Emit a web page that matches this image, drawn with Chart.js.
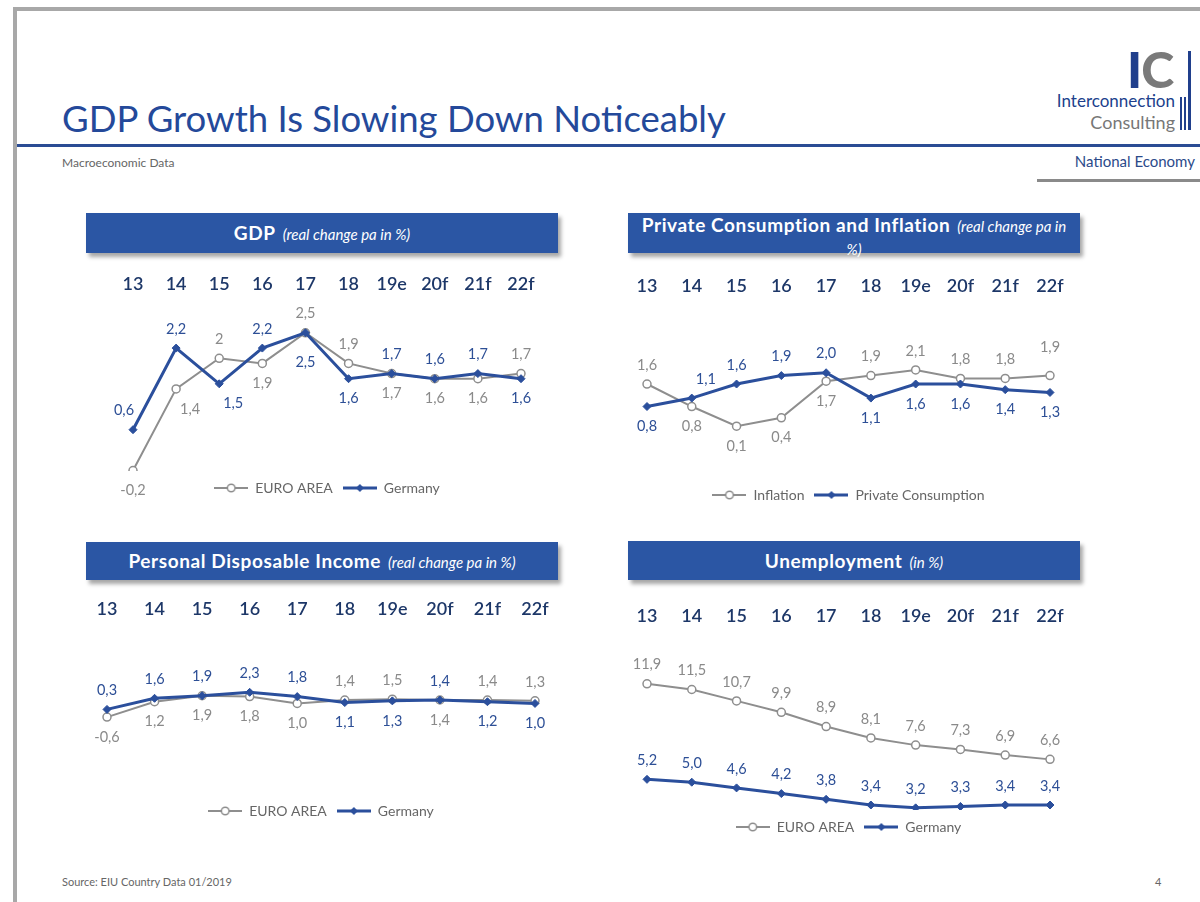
<!DOCTYPE html>
<html>
<head>
<meta charset="utf-8">
<script src="https://cdn.jsdelivr.net/npm/chart.js@4.4.0/dist/chart.umd.min.js"></script>
<style>
body { margin: 0; width: 1200px; height: 902px; background: #fff; position: relative; overflow: hidden; font-family: Lato, sans-serif; }
.abs { position: absolute; }
.frame-top { left: 13px; top: 7px; width: 1187px; height: 4px; background: #a8a8a8; }
.frame-left { left: 13px; top: 7px; width: 4px; height: 895px; background: #a8a8a8; }
#title { left: 62px; top: 95px; font-size: 36.5px; color: #24499a; white-space: nowrap; line-height: 46px; }
.rule { left: 17px; top: 144px; width: 1183px; height: 3px; background: #2a4c94; }
#sub { left: 62px; top: 155px; font-size: 12px; color: #666; }
#natEco { right: 5px; top: 152px; font-size: 15px; color: #2b4a8a; }
.grayBar { left: 1037px; top: 179px; width: 163px; height: 3px; background: #8a8a8a; }
#ic { left: 1127px; top: 40px; font-size: 50px; font-weight: 900; line-height: 58px; letter-spacing: -1px; }
#ic .i { color: #203f8c; } #ic .c { color: #7a7a7a; }
#inter { right: 25px; top: 90px; font-size: 17px; color: #203f8c; }
#cons { right: 25px; top: 111px; font-size: 18px; color: #777; }
.bar { background: #203f8c; }
.hdr { background: #2b56a4; color: #fff; text-align: center; box-shadow: 3px 4px 4px rgba(0,0,0,0.35); font-size: 19px; font-weight: 700; letter-spacing: 0.6px; white-space: nowrap; }
.hdr i { font-weight: 400; font-size: 15px; margin-left: 7px; letter-spacing: 0; }
#foot { left: 62px; top: 875px; font-size: 11px; color: #666; }
#pg { left: 1155px; top: 875px; font-size: 11px; color: #666; }
canvas { position: absolute; }
</style>
</head>
<body>
<div class="abs frame-top"></div>
<div class="abs frame-left"></div>
<div class="abs" id="title">GDP Growth Is Slowing Down Noticeably</div>
<div class="abs rule"></div>
<div class="abs" id="sub">Macroeconomic Data</div>
<div class="abs" id="natEco">National Economy</div>
<div class="abs grayBar"></div>
<div class="abs" id="ic"><span class="i">I</span><span class="c">C</span></div>
<div class="abs" id="inter">Interconnection</div>
<div class="abs" id="cons">Consulting</div>
<div class="abs bar" style="left:1188px;top:51px;width:3px;height:79px"></div>
<div class="abs bar" style="left:1180px;top:97px;width:2px;height:33px"></div>
<div class="abs bar" style="left:1184px;top:97px;width:2px;height:33px"></div>

<div class="abs hdr" style="left:86px;top:213px;width:472px;height:40px;line-height:40px">GDP<i>(real change pa in %)</i></div>
<div class="abs hdr" style="left:628px;top:213px;width:452px;height:40px;line-height:21px;padding-top:1px;box-sizing:border-box">Private Consumption and Inflation<i>(real change pa in<br>%)</i></div>
<div class="abs hdr" style="left:86px;top:542px;width:472px;height:38px;line-height:38px">Personal Disposable Income<i>(real change pa in %)</i></div>
<div class="abs hdr" style="left:628px;top:541px;width:452px;height:39px;line-height:39px">Unemployment<i>(in %)</i></div>

<canvas id="gdp" width="465" height="242" style="left:95px;top:263px"></canvas>
<canvas id="pc" width="480" height="247" style="left:610px;top:265px"></canvas>
<canvas id="pdi" width="505" height="240" style="left:70px;top:588px"></canvas>
<canvas id="unemp" width="480" height="249" style="left:610px;top:595px"></canvas>

<div class="abs" id="foot">Source: EIU Country Data 01/2019</div>
<div class="abs" id="pg">4</div>

<script>
"use strict";

// years on the x axis
let years = ["13", "14", "15", "16", "17", "18", "19e", "20f", "21f", "22f"];

// GDP, real change pa in %
let gdpEuro = [-0.2, 1.4, 2, 1.9, 2.5, 1.9, 1.7, 1.6, 1.6, 1.7];
let gdpGermany = [0.6, 2.2, 1.5, 2.2, 2.5, 1.6, 1.7, 1.6, 1.7, 1.6];

// private consumption and inflation
let inflation = [1.6, 0.8, 0.1, 0.4, 1.7, 1.9, 2.1, 1.8, 1.8, 1.9];
let privConsumption = [0.8, 1.1, 1.6, 1.9, 2.0, 1.1, 1.6, 1.6, 1.4, 1.3];

// personal disposable income
let incomeEuro = [-0.6, 1.2, 1.9, 1.8, 1.0, 1.4, 1.5, 1.4, 1.4, 1.3];
let incomeGermany = [0.3, 1.6, 1.9, 2.3, 1.8, 1.1, 1.3, 1.4, 1.2, 1.0];

// unemployment in %
let unempEuro = [11.9, 11.5, 10.7, 9.9, 8.9, 8.1, 7.6, 7.3, 6.9, 6.6];
let unempGermany = [5.2, 5.0, 4.6, 4.2, 3.8, 3.4, 3.2, 3.3, 3.4, 3.4];

const GRAY = "#8e8e8e";
const BLUE = "#2b4f9c";
const LBL_GRAY = "#8a8a8a";
const LBL_BLUE = "#2d4f96";

// small line + marker icons for the legend
function legendIcon(color, round)
{
    let c = document.createElement("canvas");
    c.width = 34;
    c.height = 10;
    let x = c.getContext("2d");
    x.strokeStyle = color;
    x.lineWidth = round ? 2 : 3;
    x.beginPath();
    x.moveTo(0, 5);
    x.lineTo(34, 5);
    x.stroke();
    if (round)
    {
        x.fillStyle = "#fff";
        x.lineWidth = 1.5;
        x.beginPath();
        x.arc(17, 5, 3.8, 0, Math.PI * 2);
        x.fill();
        x.stroke();
    }
    else
    {
        x.fillStyle = color;
        x.beginPath();
        x.moveTo(17, 1);
        x.lineTo(21, 5);
        x.lineTo(17, 9);
        x.lineTo(13, 5);
        x.closePath();
        x.fill();
    }
    return c;
}
let iconGray = legendIcon(GRAY, true);
let iconBlue = legendIcon(BLUE, false);

// value labels above (a) / below (b) the points, A/B further away, l/r shift sideways
const valueLabels = {
    id: "valueLabels",
    afterDatasetsDraw(chart, args, opts)
    {
        let ctx = chart.ctx;
        ctx.save();
        ctx.font = "14.5px Lato";
        ctx.textAlign = "center";
        ctx.textBaseline = "middle";
        chart.data.datasets.forEach(function (ds, di)
        {
            let meta = chart.getDatasetMeta(di);
            let codes = opts.pos[di].split(" ");
            ctx.fillStyle = opts.colors[di];
            meta.data.forEach(function (pt, i)
            {
                let c = codes[i];
                let dy = { a: -19, A: -28, b: 20, B: 30 }[c[0]];
                let dx = c[1] === "l" ? -9 : c[1] === "r" ? 14 : 0;
                let v = ds.data[i];
                let txt = opts.decimals === null ? String(v) : v.toFixed(opts.decimals);
                ctx.fillText(txt.replace(".", ","), pt.x + dx, pt.y + dy);
            });
        });
        ctx.restore();
    }
};

function makeChart(id, grayData, blueData, names, yMin, yMax, pos, decimals, padL, padR)
{
    return new Chart(document.getElementById(id), {
        type: "line",
        data: {
            labels: years,
            datasets: [
                {
                    label: names[0],
                    data: grayData,
                    borderColor: GRAY,
                    borderWidth: 2,
                    pointStyle: "circle",
                    pointRadius: 4,
                    pointBackgroundColor: "#fff",
                    pointBorderColor: GRAY,
                    pointBorderWidth: 1.5,
                    order: 1
                },
                {
                    label: names[1],
                    data: blueData,
                    borderColor: BLUE,
                    borderWidth: 3,
                    pointStyle: "rectRot",
                    pointRadius: 4,
                    pointBackgroundColor: BLUE,
                    pointBorderColor: BLUE,
                    pointBorderWidth: 1,
                    order: 0
                }
            ]
        },
        options: {
            responsive: false,
            animation: false,
            layout: { padding: { left: padL, right: padR, top: 7, bottom: 0 } },
            scales: {
                x: {
                    position: "top",
                    offset: false,
                    grid: { display: false, drawTicks: false },
                    border: { display: false },
                    ticks: { color: "#1d3768", font: { family: "Lato", size: 18, weight: "600" }, padding: 3, maxRotation: 0, autoSkip: false }
                },
                y: { display: false, min: yMin, max: yMax }
            },
            plugins: {
                legend: {
                    position: "bottom",
                    labels: {
                        color: "#666",
                        font: { family: "Lato", size: 14 },
                        usePointStyle: true,
                        pointStyleWidth: 34,
                        padding: 10,
                        generateLabels: function (chart)
                        {
                            return chart.data.datasets.map(function (ds, i)
                            {
                                return {
                                    text: ds.label,
                                    pointStyle: i === 0 ? iconGray : iconBlue,
                                    fillStyle: "transparent",
                                    strokeStyle: "transparent",
                                    lineWidth: 0,
                                    fontColor: "#666",
                                    datasetIndex: i
                                };
                            });
                        }
                    }
                },
                tooltip: { enabled: false },
                valueLabels: { pos: pos, colors: [LBL_GRAY, LBL_BLUE], decimals: decimals }
            }
        },
        plugins: [valueLabels]
    });
}

makeChart("gdp", gdpEuro, gdpGermany, ["EURO AREA", "Germany"], -0.21, 3.19,
    ["b br a b a a b b b a", "al a br a B b a a a b"], null, 38, 39);

makeChart("pc", inflation, privConsumption, ["Inflation", "Private Consumption"], -1.74, 4.6,
    ["a b b b b a a a a A", "b ar a a a b b b b b"], 1, 37, 40);

makeChart("pdi", incomeEuro, incomeGermany, ["EURO AREA", "Germany"], -9.6, 10.46,
    ["b b b b b a a b a a", "a a a a a b b a b b"], 1, 37, 40);

makeChart("unemp", unempEuro, unempGermany, ["EURO AREA", "Germany"], 3.05, 15.7,
    ["a a a a a a a a a a", "a a a a a a a a a a"], 1, 37, 40);
</script>
</body>
</html>
